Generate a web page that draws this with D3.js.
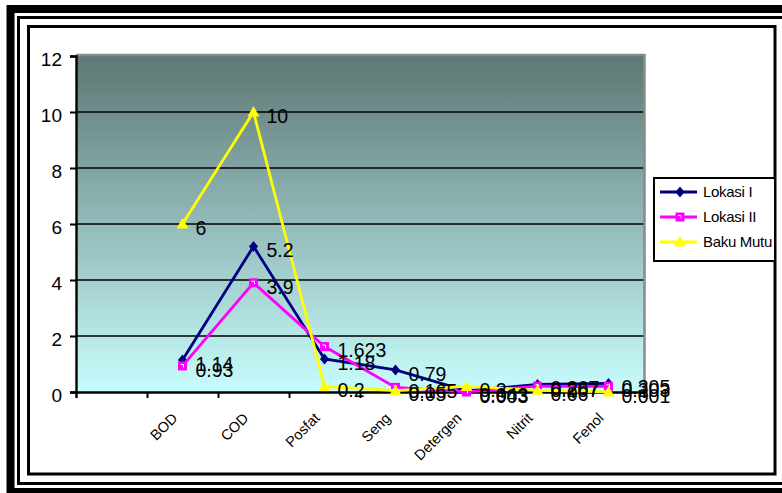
<!DOCTYPE html>
<html>
<head>
<meta charset="utf-8">
<script src="https://cdn.jsdelivr.net/npm/d3@7"></script>
<style>
  html, body { margin: 0; padding: 0; background: #fff; }
  svg { display: block; font-family: "Liberation Sans", Arial, sans-serif; }
</style>
</head>
<body>
<svg id="chart" width="782" height="493"></svg>
<script>
// Water quality parameters (first slot is an empty category)
const categories = ["", "BOD", "COD", "Posfat", "Seng", "Detergen", "Nitrit", "Fenol"];
const lokasi1   = [null, 1.14, 5.2, 1.18, 0.79, 0.043, 0.267, 0.305];
const lokasi2   = [null, 0.93, 3.9, 1.623, 0.165, 0.003, 0.207, 0.203];
const bakuMutu  = [null, 6, 10, 0.2, 0.05, 0.2, 0.06, 0.001];
const yTicks    = [0, 2, 4, 6, 8, 10, 12];
const seriesNames = ["Lokasi I", "Lokasi II", "Baku Mutu"];

const svg = d3.select("#chart");

// Decorative frame
svg.append("rect").attr("x", 10.5).attr("y", 9).attr("width", 800).attr("height", 483)
  .attr("fill", "none").attr("stroke", "#000").attr("stroke-width", 8);
svg.append("rect").attr("x", 18.5).attr("y", 17.5).attr("width", 790).attr("height", 466)
  .attr("fill", "none").attr("stroke", "#000").attr("stroke-width", 3);
svg.append("rect").attr("x", 28.5).attr("y", 26.5).attr("width", 746.5).attr("height", 447.5)
  .attr("fill", "#fff").attr("stroke", "#000").attr("stroke-width", 3);

const plot = { left: 76, right: 644, top: 56, bottom: 392 };

const x = d3.scaleBand().domain(categories.map((c, i) => i))
  .range([plot.left, plot.right]).paddingInner(0).paddingOuter(0);
const y = d3.scaleLinear().domain([0, 12]).range([plot.bottom, plot.top]);
const cx = i => x(i) + x.bandwidth() / 2;

// Plot background gradient
const defs = svg.append("defs");
const grad = defs.append("linearGradient").attr("id", "bg")
  .attr("x1", 0).attr("y1", 0).attr("x2", 0).attr("y2", 1);
grad.append("stop").attr("offset", "0%").attr("stop-color", "#5d7774");
grad.append("stop").attr("offset", "100%").attr("stop-color", "#c8fdfd");

svg.append("rect")
  .attr("x", plot.left).attr("y", plot.top)
  .attr("width", plot.right - plot.left).attr("height", plot.bottom - plot.top)
  .attr("fill", "url(#bg)");

// Horizontal gridlines
svg.append("g").selectAll("line")
  .data(yTicks.filter(t => t > 0 && t < 12)).join("line")
  .attr("x1", plot.left).attr("x2", plot.right)
  .attr("y1", d => y(d)).attr("y2", d => y(d))
  .attr("stroke", "#000").attr("stroke-width", 1.3);

// Plot border top/right
svg.append("path")
  .attr("d", `M${plot.left},${plot.top - 1}H${plot.right + 0.5}V${plot.bottom}`)
  .attr("fill", "none").attr("stroke", "#8a8a8a").attr("stroke-width", 2.5);

// Y axis
const yAxis = d3.axisLeft(y).tickValues(yTicks).tickSize(6).tickPadding(8);
const gy = svg.append("g").attr("transform", `translate(${plot.left},0)`).call(yAxis);
gy.select(".domain").attr("stroke", "#000").attr("stroke-width", 2.4);
gy.selectAll(".tick line").attr("stroke", "#000").attr("stroke-width", 2);
gy.selectAll(".tick text")
  .attr("font-size", 19).attr("fill", "#000")
  .attr("font-family", "Liberation Sans, Arial, sans-serif")
  .attr("dy", "0.5em");

// X axis (ticks between categories)
const xEdges = categories.slice(1).map((c, i) => x(i + 1));
const xAxis = d3.axisBottom(d3.scaleLinear().domain([plot.left, plot.right]).range([plot.left, plot.right]))
  .tickValues(xEdges).tickSize(6).tickFormat("");
const gx = svg.append("g").attr("transform", `translate(0,${plot.bottom})`).call(xAxis);
gx.select(".domain").attr("stroke", "#000").attr("stroke-width", 2.4);
gx.selectAll(".tick line").attr("stroke", "#000").attr("stroke-width", 2);

// Category labels, rotated
svg.append("g").selectAll("text")
  .data(categories.map((c, i) => ({ c, i })).filter(d => d.c))
  .join("text")
  .attr("transform", d => `translate(${cx(d.i) - 4},419) rotate(-45)`)
  .attr("text-anchor", "end")
  .attr("font-size", 14.5)
  .attr("fill", "#000")
  .text(d => d.c);

// Series
const series = [
  { name: seriesNames[0], values: lokasi1, color: "#000080", marker: "diamond" },
  { name: seriesNames[1], values: lokasi2, color: "#ff00ff", marker: "square" },
  { name: seriesNames[2], values: bakuMutu, color: "#ffff00", marker: "triangle" }
];

const line = d3.line()
  .defined(d => d.v != null)
  .x(d => cx(d.i)).y(d => y(d.v));

function drawMarker(g, type, color) {
  if (type === "diamond") {
    g.append("path").attr("d", "M0,-5.5L4.5,0L0,5.5L-4.5,0Z").attr("fill", color);
  } else if (type === "square") {
    g.append("rect").attr("x", -4.5).attr("y", -4.5).attr("width", 9).attr("height", 9).attr("fill", color);
    g.append("path").attr("d", "M-2,-1.5H1V1.5").attr("fill", "none").attr("stroke", "#fff").attr("stroke-width", 1);
  } else {
    g.append("path").attr("d", "M0,-6L6,4.5L-6,4.5Z").attr("fill", color);
  }
}

series.forEach(s => {
  const pts = s.values.map((v, i) => ({ v, i })).filter(d => d.v != null);
  svg.append("path").datum(pts)
    .attr("d", line)
    .attr("fill", "none").attr("stroke", s.color).attr("stroke-width", 2.8);
  pts.forEach(p => {
    const g = svg.append("g").attr("transform", `translate(${cx(p.i)},${y(p.v)})`);
    drawMarker(g, s.marker, s.color);
  });
});

// Data labels
series.forEach(s => {
  svg.append("g").selectAll("text")
    .data(s.values.map((v, i) => ({ v, i })).filter(d => d.v != null))
    .join("text")
    .attr("x", d => cx(d.i) + 13)
    .attr("y", d => y(d.v) + 4)
    .attr("dy", "0.35em")
    .attr("font-size", 19.5)
    .attr("fill", "#000")
    .text(d => String(d.v));
});

// Legend
const lg = svg.append("g");
lg.append("rect").attr("x", 654).attr("y", 178).attr("width", 121).attr("height", 83)
  .attr("fill", "#fff").attr("stroke", "#000").attr("stroke-width", 2);
const rows = [192, 217, 242];
series.forEach((s, k) => {
  lg.append("line").attr("x1", 660).attr("x2", 697).attr("y1", rows[k]).attr("y2", rows[k])
    .attr("stroke", s.color).attr("stroke-width", 2.8);
  const g = lg.append("g").attr("transform", `translate(680,${rows[k]})`);
  drawMarker(g, s.marker, s.color);
  lg.append("text").attr("x", 703).attr("y", rows[k]).attr("dy", "0.36em")
    .attr("font-size", 15).attr("fill", "#000").attr("letter-spacing", -0.3)
    .text(s.name);
});
</script>
</body>
</html>
